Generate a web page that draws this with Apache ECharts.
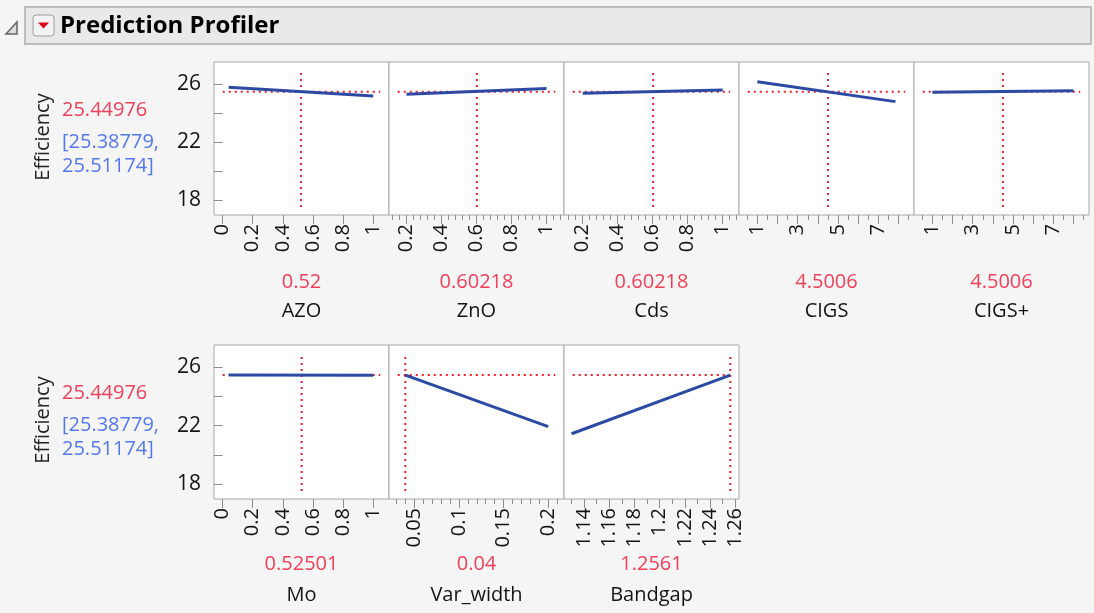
<!DOCTYPE html>
<html>
<head>
<meta charset="utf-8">
<script src="https://cdn.jsdelivr.net/npm/echarts@6/dist/echarts.min.js"></script>
<style>
  html, body { margin: 0; padding: 0; background: #f5f5f5; }
  #chart { width: 1094px; height: 613px; }
</style>
</head>
<body>
<div id="chart"></div>
<script>
// ---- Profiler data -------------------------------------------------------
const factorNames = ['AZO', 'ZnO', 'Cds', 'CIGS', 'CIGS+', 'Mo', 'Var_width', 'Bandgap'];
const currentValues = [0.52, 0.60218, 0.60218, 4.5006, 4.5006, 0.52501, 0.04, 1.2561];
const currentText = ['0.52', '0.60218', '0.60218', '4.5006', '4.5006', '0.52501', '0.04', '1.2561'];

const responseName = 'Efficiency';
const predicted = 25.44976;
const predictedText = '25.44976';
const intervalText = ['[25.38779,', '25.51174]'];

// Profile traces: [factor setting, predicted efficiency]
const profileAZO = [[0.04, 25.77], [1, 25.16]];
const profileZnO = [[0.2, 25.28], [1, 25.68]];
const profileCds = [[0.2, 25.35], [1, 25.58]];
const profileCIGS = [[1, 26.15], [7.85, 24.78]];
const profileCIGSplus = [[1, 25.42], [8, 25.52]];
const profileMo = [[0.04, 25.46], [1, 25.44]];
const profileVarWidth = [[0.04, 25.45], [0.2, 21.93]];
const profileBandgap = [[1.13, 21.45], [1.2561, 25.45]];
const profiles = [profileAZO, profileZnO, profileCds, profileCIGS, profileCIGSplus,
                  profileMo, profileVarWidth, profileBandgap];

// Axis extents and tick positions
const xRanges = [[-0.057, 1.105], [0.1, 1.1], [0.093, 1.093], [0.09, 8.77], [0.09, 8.77],
                 [-0.057, 1.105], [0.0217, 0.2176], [1.124, 1.263]];
const xTickLabels = [
  [0, 0.2, 0.4, 0.6, 0.8, 1],
  [0.2, 0.4, 0.6, 0.8, 1],
  [0.2, 0.4, 0.6, 0.8, 1],
  [1, 3, 5, 7],
  [1, 3, 5, 7],
  [0, 0.2, 0.4, 0.6, 0.8, 1],
  [0.05, 0.1, 0.15, 0.2],
  [1.14, 1.16, 1.18, 1.2, 1.22, 1.24, 1.26]
];
const xMajorTicks = [
  [0, 0.2, 0.4, 0.6, 0.8, 1],
  [0.2, 0.4, 0.6, 0.8, 1],
  [0.2, 0.4, 0.6, 0.8, 1],
  [1, 2, 3, 4, 5, 6, 7, 8],
  [1, 2, 3, 4, 5, 6, 7, 8],
  [0, 0.2, 0.4, 0.6, 0.8, 1],
  [0.05, 0.1, 0.15, 0.2],
  [1.14, 1.16, 1.18, 1.2, 1.22, 1.24, 1.26]
];
const fractionMinor = [0.12, 0.16, 0.24, 0.28, 0.32, 0.36, 0.44, 0.48, 0.52, 0.56,
                       0.64, 0.68, 0.72, 0.76, 0.84, 0.88, 0.92, 0.96, 1.04, 1.08];
const layerMinor = [0.5, 1.5, 2.5, 3.5, 4.5, 5.5, 6.5, 7.5, 8.5];
const xMinorTicks = [
  [],
  fractionMinor,
  fractionMinor,
  layerMinor,
  layerMinor,
  [],
  [0.03, 0.04, 0.06, 0.07, 0.08, 0.09, 0.11, 0.12, 0.13, 0.14, 0.16, 0.17, 0.18, 0.19, 0.21],
  [1.13, 1.15, 1.17, 1.19, 1.21, 1.23, 1.25]
];
const yRange = [17, 27.5];
const yTickLabels = [18, 22, 26];
const yTicks = [18, 20, 22, 24, 26];

// ---- Layout --------------------------------------------------------------
const FONT = '"Open Sans", "Noto Sans", sans-serif';
const panelW = 175;
const panelLeft0 = 214;
const rows = [
  { top: 62, height: 153, valueY: 282, nameY: 311, labelYs: [110, 142, 166], respY: 137 },
  { top: 345, height: 154, valueY: 564, nameY: 595, labelYs: [393, 425, 449], respY: 420 }
];
const panelRow = [0, 0, 0, 0, 0, 1, 1, 1];
const panelCol = [0, 1, 2, 3, 4, 0, 1, 2];

const RED = '#f0405a';
const BLUE_TEXT = '#5577ee';
const TRACE = '#2c4aa3';
const DOT_RED = '#ee1c2c';
const INK = '#141414';

const grids = [], xAxes = [], yAxes = [], series = [], graphics = [];
const n = factorNames.length;

for (let i = 0; i < n; i++) {
  const row = rows[panelRow[i]];
  const left = panelLeft0 + panelCol[i] * panelW;
  const firstInRow = panelCol[i] === 0;
  grids.push({
    left: left, top: row.top, width: panelW, height: row.height,
    show: true, backgroundColor: '#ffffff', borderColor: '#a8a8a8', borderWidth: 1
  });
  // major ticks + labels
  xAxes.push({
    type: 'value', gridIndex: i, position: 'bottom',
    min: xRanges[i][0], max: xRanges[i][1],
    axisLine: { show: false },
    splitLine: { show: false },
    axisTick: { show: true, customValues: xMajorTicks[i], length: 9,
                lineStyle: { color: '#8e8e8e', width: 1 } },
    axisLabel: { show: true, customValues: xTickLabels[i], rotate: 90, margin: 9,
                 color: INK, fontSize: 20, fontFamily: FONT }
  });
  yAxes.push({
    type: 'value', gridIndex: i, min: yRange[0], max: yRange[1],
    splitLine: { show: false },
    axisLine: { show: false },
    axisTick: { show: firstInRow, customValues: yTicks, length: 9,
                lineStyle: { color: '#8e8e8e', width: 1 } },
    axisLabel: { show: firstInRow, customValues: yTickLabels, margin: 13,
                 color: INK, fontSize: 21, fontFamily: FONT }
  });
}
// minor ticks on a companion axis in each panel
for (let i = 0; i < n; i++) {
  xAxes.push({
    type: 'value', gridIndex: i, position: 'bottom',
    min: xRanges[i][0], max: xRanges[i][1],
    axisLine: { show: false }, splitLine: { show: false }, axisLabel: { show: false },
    axisTick: { show: xMinorTicks[i].length > 0, customValues: xMinorTicks[i], length: 5,
                lineStyle: { color: '#8e8e8e', width: 1 } }
  });
}

for (let i = 0; i < n; i++) {
  const [x0, x1] = xRanges[i];
  const inset = (x1 - x0) * 0.05;
  const yLo = yRange[0] + 0.55, yHi = yRange[1] - 0.65;
  // crosshair at the current setting and the predicted response
  series.push({
    type: 'line', xAxisIndex: i, yAxisIndex: i, silent: true, symbol: 'none', z: 2,
    data: [[currentValues[i], yLo], [currentValues[i], yHi]],
    lineStyle: { color: DOT_RED, width: 2, type: [2, 4] }
  });
  series.push({
    type: 'line', xAxisIndex: i, yAxisIndex: i, silent: true, symbol: 'none', z: 2,
    data: [[x0 + inset, predicted], [x1 - inset, predicted]],
    lineStyle: { color: DOT_RED, width: 2, type: [2, 4] }
  });
  // profile trace
  series.push({
    type: 'line', xAxisIndex: i, yAxisIndex: i, silent: true, symbol: 'none', z: 3,
    data: profiles[i],
    lineStyle: { color: TRACE, width: 3 }
  });

  const row = rows[panelRow[i]];
  const cx = panelLeft0 + panelCol[i] * panelW + panelW / 2;
  graphics.push({ type: 'text', x: cx, y: row.valueY, style: {
    text: currentText[i], fill: RED, font: '20px ' + FONT, align: 'center', verticalAlign: 'middle' } });
  graphics.push({ type: 'text', x: cx, y: row.nameY, style: {
    text: factorNames[i], fill: INK, font: '20px ' + FONT, align: 'center', verticalAlign: 'middle' } });
}

// response labels at the left of each row
rows.forEach(function (row) {
  graphics.push({ type: 'text', x: 43, y: row.respY, rotation: Math.PI / 2, style: {
    text: responseName, fill: '#222222', font: '20px ' + FONT, align: 'center', verticalAlign: 'middle' } });
  graphics.push({ type: 'text', x: 62, y: row.labelYs[0], style: {
    text: predictedText, fill: RED, font: '20px ' + FONT, align: 'left', verticalAlign: 'middle' } });
  graphics.push({ type: 'text', x: 62, y: row.labelYs[1], style: {
    text: intervalText[0], fill: BLUE_TEXT, font: '20px ' + FONT, align: 'left', verticalAlign: 'middle' } });
  graphics.push({ type: 'text', x: 62, y: row.labelYs[2], style: {
    text: intervalText[1], fill: BLUE_TEXT, font: '20px ' + FONT, align: 'left', verticalAlign: 'middle' } });
});

// outline header
graphics.push({ type: 'rect', shape: { x: 25, y: 7, width: 1066, height: 37 },
  style: { fill: '#e9e9e9', stroke: '#bdbdbd', lineWidth: 2 } });
graphics.push({ type: 'polygon', shape: { points: [[6, 34], [17, 34], [17, 22]] },
  style: { fill: '#dcdcdc', stroke: '#666666', lineWidth: 1.5 } });
graphics.push({ type: 'rect', shape: { x: 33, y: 15, width: 21, height: 21, r: 3 },
  style: { fill: '#f3f3f3', stroke: '#9c9c9c', lineWidth: 1 } });
graphics.push({ type: 'polygon', shape: { points: [[38, 22.5], [49, 22.5], [43.5, 28.5]] },
  style: { fill: '#e0001b' } });
graphics.push({ type: 'text', x: 60, y: 26, style: {
  text: 'Prediction Profiler', fill: '#000000', font: 'bold 24px ' + FONT,
  align: 'left', verticalAlign: 'middle' } });

const chart = echarts.init(document.getElementById('chart'), null, { renderer: 'canvas' });
chart.setOption({
  animation: false,
  backgroundColor: '#f5f5f5',
  grid: grids,
  xAxis: xAxes,
  yAxis: yAxes,
  series: series,
  graphic: graphics
});
</script>
</body>
</html>
